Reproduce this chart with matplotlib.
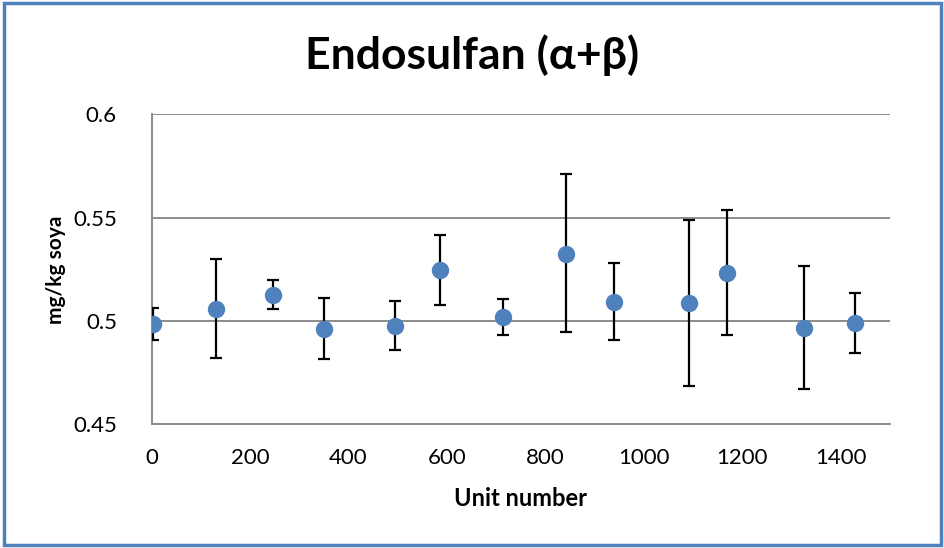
import matplotlib
matplotlib.use('Agg')
import matplotlib.pyplot as plt
from matplotlib.patches import Rectangle
from matplotlib.ticker import FuncFormatter

# unit number, mean residue, and the lower/upper ends of each error bar
unit_no = [3, 131, 246, 350, 495, 585, 714, 841, 940, 1091, 1169, 1326, 1428]
mean_val = [0.4985, 0.5058, 0.5126, 0.4963, 0.4976, 0.5245, 0.5018,
            0.5326, 0.5094, 0.5087, 0.5232, 0.4966, 0.4989]
err_low = [0.4907, 0.4819, 0.5057, 0.4816, 0.4860, 0.5077, 0.4934,
           0.4947, 0.4907, 0.4685, 0.4931, 0.4671, 0.4847]
err_high = [0.5063, 0.5299, 0.5196, 0.5113, 0.5097, 0.5415, 0.5105,
            0.5710, 0.5279, 0.5489, 0.5539, 0.5266, 0.5133]

y_ticks = [0.45, 0.5, 0.55, 0.6]
x_ticks = [0, 200, 400, 600, 800, 1000, 1200, 1400]

plt.rcParams['font.family'] = ['Lato', 'DejaVu Sans']

fig = plt.figure(figsize=(9.45, 5.48), dpi=100)
ax = fig.add_axes([0.1605, 0.2257, 0.7813, 0.5657])

lower = [m - lo for m, lo in zip(mean_val, err_low)]
upper = [hi - m for m, hi in zip(mean_val, err_high)]
ax.errorbar(unit_no, mean_val, yerr=[lower, upper], fmt='none',
            ecolor='black', elinewidth=1.6, capsize=4.3, capthick=1.6, zorder=3)
ax.plot(unit_no, mean_val, 'o', color='#4F81BD', markersize=11.5, zorder=4)

ax.set_xlim(0, 1500)
ax.set_ylim(0.45, 0.6)
ax.set_xticks(x_ticks)
ax.set_yticks(y_ticks)
ax.yaxis.set_major_formatter(FuncFormatter(lambda v, p: '{:g}'.format(v)))
ax.grid(axis='y', color='#8C8C8C', linewidth=1.4, zorder=1)
ax.set_axisbelow(True)

for side in ['top', 'right']:
    ax.spines[side].set_visible(False)
for side in ['left', 'bottom']:
    ax.spines[side].set_color('#8C8C8C')
    ax.spines[side].set_linewidth(1.4)
ax.tick_params(length=0, labelsize=16)
ax.tick_params(axis='y', pad=25)
ax.tick_params(axis='x', pad=17)

fig.text(0.5, 0.9, 'Endosulfan (α+β)', fontsize=32, fontweight='bold',
         ha='center', va='center')
ax.set_xlabel('Unit number', fontsize=17, fontweight='bold', labelpad=14)
ax.set_ylabel('mg/kg soya', fontsize=15, fontweight='bold', labelpad=5)

fig.patches.append(Rectangle((0.004, 0.005), 0.992, 0.99, transform=fig.transFigure,
                             fill=False, edgecolor='#4F81BD', linewidth=2.5))

fig.savefig('out.png', dpi=100)
